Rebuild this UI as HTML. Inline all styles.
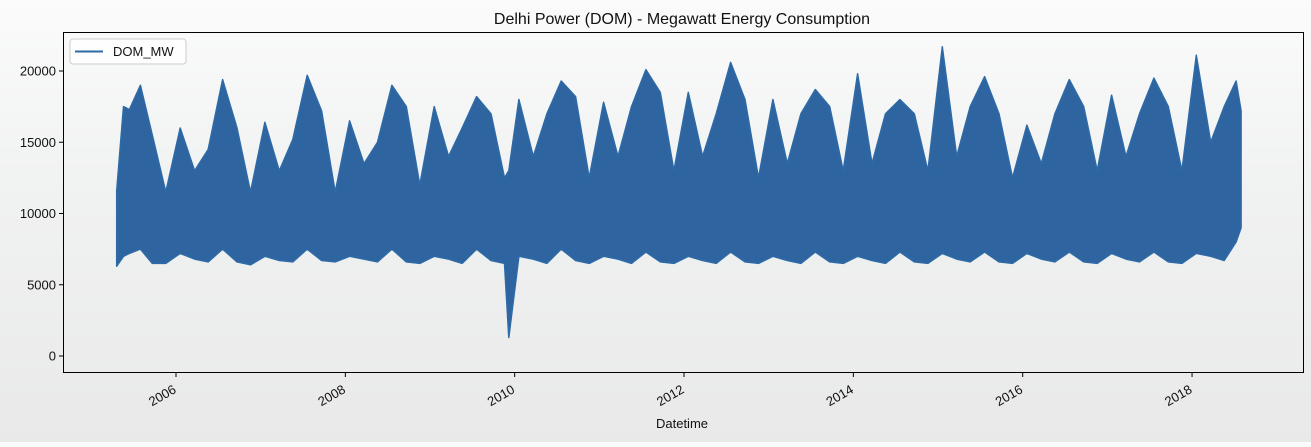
<!DOCTYPE html>
<html><head><meta charset="utf-8"><style>
body{margin:0;width:1311px;height:442px;overflow:hidden;background:linear-gradient(#fbfbfb 0%,#f1f2f2 40%,#e9e9e9 100%);font-family:"Liberation Sans","DejaVu Sans",sans-serif}
</style></head><body>
<svg width="1311" height="442" xmlns="http://www.w3.org/2000/svg" id="svg">
<text x="682" y="24" text-anchor="middle" font-size="16" fill="#111">Delhi Power (DOM) - Megawatt Energy Consumption</text>
<g id="plot"></g>
<rect x="63.5" y="32.5" width="1240" height="340" fill="none" stroke="#000" stroke-width="1"/>
<g id="axes"></g>
<text x="682" y="428" text-anchor="middle" font-size="13" fill="#111">Datetime</text>
<g>
<rect x="70" y="39" width="116" height="25" rx="3" fill="#fff" fill-opacity="0.8" stroke="#ccc"/>
<line x1="75" y1="51.5" x2="103" y2="51.5" stroke="#2e6aa6" stroke-width="2"/>
<text x="113" y="56" font-size="13" fill="#111">DOM_MW</text>
</g>
</svg>
<script>
const dates=[2005.30,2005.38,2005.45,2005.58,2005.72,2005.88,
2006.05,2006.22,2006.38,2006.55,2006.72,2006.88,
2007.05,2007.22,2007.38,2007.55,2007.72,2007.88,
2008.05,2008.22,2008.38,2008.55,2008.72,2008.88,
2009.05,2009.22,2009.38,2009.55,2009.72,2009.88,2009.93,
2010.05,2010.22,2010.38,2010.55,2010.72,2010.88,
2011.05,2011.22,2011.38,2011.55,2011.72,2011.88,
2012.05,2012.22,2012.38,2012.55,2012.72,2012.88,
2013.05,2013.22,2013.38,2013.55,2013.72,2013.88,
2014.05,2014.22,2014.38,2014.55,2014.72,2014.88,
2015.05,2015.22,2015.38,2015.55,2015.72,2015.88,
2016.05,2016.22,2016.38,2016.55,2016.72,2016.88,
2017.05,2017.22,2017.38,2017.55,2017.72,2017.88,
2018.05,2018.22,2018.38,2018.52,2018.58];
const highs=[11600,17500,17300,19000,15500,11500,
16000,13000,14500,19400,16000,11500,
16400,13000,15200,19700,17200,11500,
16500,13500,15000,19000,17500,12000,
17500,14000,16000,18200,17000,12500,13000,
18000,14000,17000,19300,18200,12500,
17800,14000,17500,20100,18500,13000,
18500,14000,17000,20600,18000,12500,
18000,13500,17000,18700,17500,13000,
19800,13500,17000,18000,17000,13000,
21700,14000,17500,19600,17000,12500,
16200,13500,17000,19400,17500,13000,
18300,14000,17000,19500,17500,13000,
21100,15000,17500,19300,17200];
const lows=[6300,7000,7200,7500,6500,6500,
7200,6800,6600,7500,6600,6400,
7000,6700,6600,7500,6700,6600,
7000,6800,6600,7500,6600,6500,
7000,6800,6500,7500,6700,6500,1300,
7000,6800,6500,7500,6700,6500,
7000,6800,6500,7300,6600,6500,
7000,6700,6500,7300,6600,6500,
7000,6700,6500,7300,6600,6500,
7000,6700,6500,7300,6600,6500,
7200,6800,6600,7300,6600,6500,
7200,6800,6600,7300,6600,6500,
7200,6800,6600,7300,6600,6500,
7200,7000,6700,8000,9000];
const yTicks=[0,5000,10000,15000,20000];
const xTicks=[2006,2008,2010,2012,2014,2016,2018];

const NS="http://www.w3.org/2000/svg";
const xs=d=>176+(d-2006)*84.67;
const ys=v=>356-v*0.01425;
const plot=document.getElementById('plot'),axes=document.getElementById('axes');
let pts=[];
dates.forEach((d,i)=>pts.push(xs(d).toFixed(1)+','+ys(highs[i]).toFixed(1)));
for(let i=dates.length-1;i>=0;i--)pts.push(xs(dates[i]).toFixed(1)+','+ys(lows[i]).toFixed(1));
const poly=document.createElementNS(NS,'polygon');


poly.setAttribute('points',pts.join(' '));
poly.setAttribute('fill','#2e65a0');poly.setAttribute('stroke','#2e6aa6');poly.setAttribute('stroke-width','1.5');poly.setAttribute('stroke-linejoin','round');
plot.appendChild(poly);
yTicks.forEach(v=>{
 const y=ys(v);
 const l=document.createElementNS(NS,'line');
 
 
 l.setAttribute('x1',59);l.setAttribute('x2',63);l.setAttribute('y1',y);l.setAttribute('y2',y);l.setAttribute('stroke','#000');
 axes.appendChild(l);
 const t=document.createElementNS(NS,'text');
 
 
 t.setAttribute('x',56);t.setAttribute('y',y+4.5);t.setAttribute('text-anchor','end');t.setAttribute('font-size','13');t.setAttribute('fill','#111');
 t.textContent=v;axes.appendChild(t);
});
xTicks.forEach(v=>{
 const x=xs(v);
 const l=document.createElementNS(NS,'line');
 
 
 l.setAttribute('x1',x);l.setAttribute('x2',x);l.setAttribute('y1',373);l.setAttribute('y2',377);l.setAttribute('stroke','#000');
 axes.appendChild(l);
 const t=document.createElementNS(NS,'text');
 
 
 t.setAttribute('transform','translate('+(x+1)+',392) rotate(-30)');t.setAttribute('text-anchor','end');t.setAttribute('font-size','13');t.setAttribute('fill','#111');
 t.textContent=v;axes.appendChild(t);
});
</script>
</body></html>
